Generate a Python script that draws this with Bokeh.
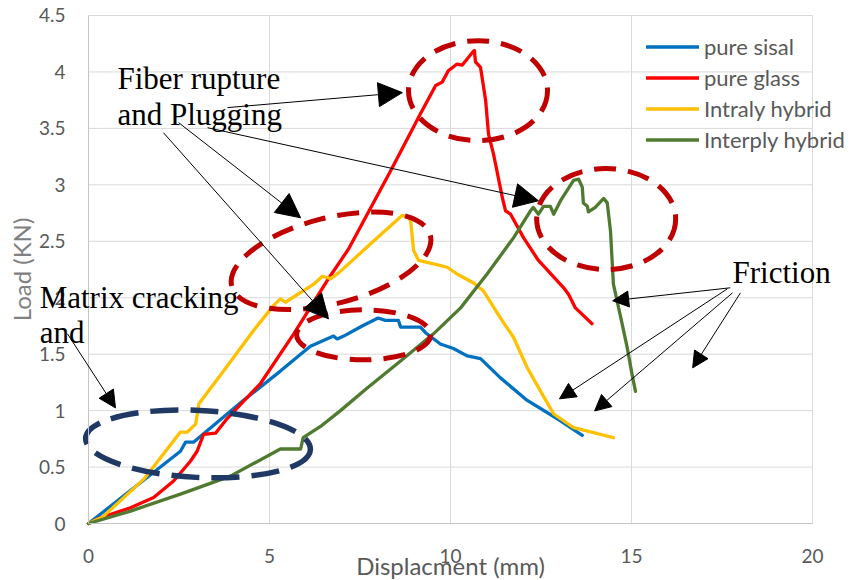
from bokeh.plotting import figure
from bokeh.models import Range1d, FixedTicker, Label, Arrow, NormalHead
from bokeh.embed import file_html
from bokeh.resources import INLINE

# Axis ticks
x_ticks = [0, 5, 10, 15, 20]
x_tick_labels = ["0", "5", "10", "15", "20"]
y_ticks = [0, 0.5, 1, 1.5, 2, 2.5, 3, 3.5, 4, 4.5]
y_tick_labels = ["0", "0.5", "1", "1.5", "2", "2.5", "3", "3.5", "4", "4.5"]

# Load–displacement curves (displacement in mm, load in kN)
sisal_x = [0, 2.54, 2.68, 2.9, 4.2, 5.3, 5.86, 6.13, 6.77, 6.87, 7.05, 7.56, 8.0, 8.2,
           8.56, 8.62, 9.17, 9.31, 9.72, 10.08, 10.46, 10.83, 11.38, 12.12, 13.04, 13.64]
sisal_y = [0, 0.64, 0.72, 0.72, 1.07, 1.35, 1.50, 1.57, 1.66, 1.635, 1.66, 1.75, 1.82, 1.80,
           1.80, 1.74, 1.74, 1.69, 1.59, 1.55, 1.485, 1.46, 1.29, 1.09, 0.91, 0.78]

glass_x = [0, 0.33, 1.16, 1.8, 2.35, 2.82, 3.0, 3.18, 3.51, 3.83, 4.75, 5.67, 6.59, 7.18,
           8.34, 9.17, 9.59, 9.77, 9.94, 10.18, 10.32, 10.6, 10.66, 10.69, 10.83, 10.97,
           11.05, 11.19, 11.43, 11.52, 11.66, 12.02, 12.43, 13.12, 13.26, 13.45, 13.91]
glass_y = [0, 0.05, 0.14, 0.23, 0.377, 0.554, 0.64, 0.79, 0.80, 0.93, 1.24, 1.68, 2.15, 2.43,
           3.12, 3.63, 3.88, 3.91, 4.01, 4.07, 4.06, 4.17, 4.19, 4.09, 4.04, 3.75,
           3.45, 3.27, 2.89, 2.77, 2.74, 2.53, 2.33, 2.09, 2.03, 1.91, 1.77]

intra_x = [0, 0.4, 1.55, 2.54, 2.73, 2.96, 3.05, 3.73, 4.56, 5.11, 5.3, 5.44, 6.22, 6.46,
           6.69, 6.91, 7.87, 8.67, 8.84, 8.9, 8.98, 9.12, 9.53, 9.91, 10.18, 10.64, 10.91,
           11.38, 11.74, 12.12, 12.49, 12.85, 13.4, 14.5]
intra_y = [0, 0.06, 0.40, 0.81, 0.81, 0.88, 1.06, 1.35, 1.71, 1.93, 1.99, 1.96, 2.12, 2.19,
           2.17, 2.22, 2.50, 2.73, 2.71, 2.68, 2.42, 2.33, 2.30, 2.27, 2.21, 2.13, 2.06,
           1.82, 1.65, 1.38, 1.17, 0.97, 0.85, 0.76]

inter_x = [0, 1.16, 2.54, 3.92, 5.3, 5.86, 5.93, 6.41, 6.96, 7.7, 8.62, 9.53, 10.28, 11.01,
           11.74, 12.21, 12.29, 12.43, 12.57, 12.76, 12.85, 13.04, 13.4, 13.54, 13.64, 13.67,
           13.78, 13.81, 14.0, 14.23, 14.33, 14.42, 14.5, 14.74, 14.88, 15.01, 15.11]
inter_y = [0, 0.11, 0.26, 0.42, 0.66, 0.66, 0.76, 0.86, 1.0, 1.20, 1.44, 1.68, 1.91, 2.21,
           2.53, 2.77, 2.80, 2.74, 2.81, 2.81, 2.74, 2.86, 3.04, 3.05, 2.98, 2.84,
           2.81, 2.76, 2.80, 2.88, 2.84, 2.59, 2.12, 1.77, 1.56, 1.33, 1.17]

series_names = ["pure sisal", "pure glass", "Intraly hybrid", "Interply hybrid"]
series_colors = ["#0070C0", "#FF0000", "#FFC000", "#4F7A2F"]

# Failure-zone outlines: centre (data), size (px), tilt (rad)
red_zone_x = [10.76, 14.30, 6.70, 7.60]
red_zone_y = [3.834, 2.697, 2.327, 1.671]
red_zone_w = [139, 139, 205, 134]
red_zone_h = [100, 101, 86, 50]
red_zone_angle = [0, 0, 0.25, 0]
crack_zone = dict(x=[3.025], y=[0.705], w=[225], h=[67], angle=[-0.05])

# Callout arrows: (x_start, y_start, x_end, y_end, head size)
arrows = [
    (3.84, 3.684, 8.67, 3.817, 24),
    (3.29, 3.506, 12.43, 2.859, 24),
    (2.07, 3.462, 6.63, 1.813, 24),
    (2.49, 3.551, 5.86, 2.708, 24),
    (-0.58, 1.68, 0.746, 1.024, 17),
    (17.73, 2.088, 14.48, 1.973, 16),
    (17.65, 2.079, 13.01, 1.104, 16),
    (17.79, 2.043, 13.98, 0.997, 16),
    (18.01, 2.043, 16.69, 1.379, 16),
]

# Callout texts: (text, x, baseline y)
notes = [
    ("Fiber rupture", 0.80, 3.94),
    ("and Plugging", 0.80, 3.62),
    ("Matrix cracking", -1.35, 2.00),
    ("and", -1.35, 1.69),
    ("Friction", 17.79, 2.222),
]

TICK_COLOR = "#595959"
GRID_COLOR = "#D9D9D9"

# Plot area geometry: pixels per unit and the margin round the 0–20 / 0–4.5 box
PX_PER_X = 36.2
PX_PER_Y = 112.9
x_view = (x_ticks[0] - 88 / PX_PER_X, x_ticks[-1] + 38 / PX_PER_X)
y_view = (y_ticks[0] - 57 / PX_PER_Y, y_ticks[-1] + 15 / PX_PER_Y)

p = figure(width=850, height=580, output_backend="svg", toolbar_location=None,
           x_range=Range1d(*x_view), y_range=Range1d(*y_view),
           min_border=0, outline_line_color=None)
p.background_fill_color = "white"
p.border_fill_color = "white"
p.xgrid.visible = False
p.ygrid.visible = False

for ax in (p.xaxis[0], p.yaxis[0]):
    ax.fixed_location = 0
    ax.major_tick_out = 0
    ax.major_tick_in = 0
    ax.minor_tick_out = 0
    ax.minor_tick_in = 0
    ax.axis_line_color = "#C4C4C4"
    ax.axis_line_width = 1
    ax.major_label_text_font = "Lato"
    ax.major_label_text_font_size = "19px"
    ax.major_label_text_color = TICK_COLOR

p.xaxis.bounds = (x_ticks[0], x_ticks[-1])
p.xaxis.ticker = FixedTicker(ticks=x_ticks)
p.xaxis.major_label_overrides = dict(zip(x_ticks, x_tick_labels))
p.xaxis.major_label_standoff = 25
p.yaxis.bounds = (y_ticks[0], y_ticks[-1])
p.yaxis.ticker = FixedTicker(ticks=y_ticks)
p.yaxis.major_label_overrides = dict(zip(y_ticks, y_tick_labels))
p.yaxis.major_label_standoff = 23
p.yaxis.axis_label = "Load (KN)"
p.yaxis.axis_label_text_font = "Lato"
p.yaxis.axis_label_text_font_size = "24px"
p.yaxis.axis_label_text_font_style = "normal"
p.yaxis.axis_label_text_color = "#808080"
p.yaxis.axis_label_standoff = 0

# Grid lines at every tick, limited to the axis box
n_x, n_y = len(x_ticks), len(y_ticks)
p.segment(x0=x_ticks, y0=[y_ticks[0]] * n_x, x1=x_ticks, y1=[y_ticks[-1]] * n_x,
          line_color=GRID_COLOR, line_width=1)
p.segment(x0=[x_ticks[0]] * n_y, y0=y_ticks, x1=[x_ticks[-1]] * n_y, y1=y_ticks,
          line_color=GRID_COLOR, line_width=1)

for xs, ys, name, color in zip([sisal_x, glass_x, intra_x, inter_x],
                               [sisal_y, glass_y, intra_y, inter_y],
                               series_names, series_colors):
    p.line(xs, ys, line_color=color, line_width=3.3, line_join="round",
           line_cap="round", legend_label=name)

p.ellipse(x=red_zone_x, y=red_zone_y, width=red_zone_w, height=red_zone_h,
          angle=red_zone_angle, width_units="screen", height_units="screen",
          fill_alpha=0, line_color="#C00000", line_width=5, line_dash="22 12")
p.ellipse(x=crack_zone["x"], y=crack_zone["y"], width=crack_zone["w"],
          height=crack_zone["h"], angle=crack_zone["angle"], width_units="screen",
          height_units="screen", fill_alpha=0, line_color="#1F3864",
          line_width=5.5, line_dash="28 12")

for xs, ys, xe, ye, hs in arrows:
    p.add_layout(Arrow(x_start=xs, y_start=ys, x_end=xe, y_end=ye,
                       line_color="black", line_width=1,
                       end=NormalHead(size=hs, fill_color="black", line_color="black",
                                      line_width=1)))

for txt, tx, ty in notes:
    p.add_layout(Label(x=tx, y=ty, text=txt, text_font="Liberation Serif",
                       text_font_size="31px", text_color="black",
                       text_baseline="alphabetic", text_align="left"))

p.add_layout(Label(x=10, y=-0.37, text="Displacment (mm)", text_font="Lato",
                   text_font_size="24px", text_color=TICK_COLOR,
                   text_align="center", text_baseline="alphabetic"))

lg = p.legend[0]
lg.location = (646, 425)
lg.background_fill_alpha = 0
lg.border_line_alpha = 0
lg.padding = 0
lg.margin = 0
lg.spacing = 0
lg.glyph_width = 53
lg.glyph_height = 31
lg.label_height = 31
lg.label_standoff = 5
lg.label_text_font = "Lato"
lg.label_text_font_size = "22px"
lg.label_text_color = TICK_COLOR

open("out.html", "w").write(file_html(p, INLINE))
